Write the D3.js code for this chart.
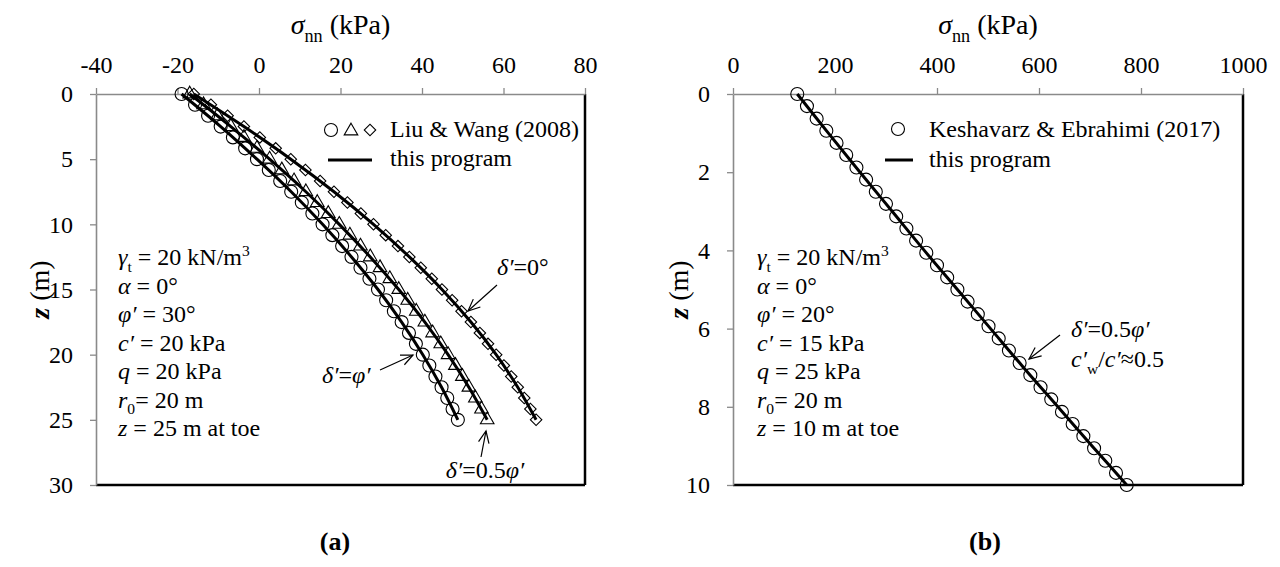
<!DOCTYPE html>
<html><head><meta charset="utf-8">
<script src="https://cdn.jsdelivr.net/npm/d3@7"></script>
<style>
body{margin:0;background:#fff}
svg{display:block}
text{font-family:"Liberation Serif","Times New Roman",serif;fill:#000}
</style>
</head><body>
<svg id="c" width="1280" height="567"></svg>
<script>
// ---------- tick labels ----------
const xTicksA = [-40, -20, 0, 20, 40, 60, 80];
const yTicksA = [0, 5, 10, 15, 20, 25, 30];
const xTicksB = [0, 200, 400, 600, 800, 1000];
const yTicksB = [0, 2, 4, 6, 8, 10];

// ---------- panel (a): Liu & Wang (2008) markers ----------
const zA = [0,0.83,1.67,2.5,3.33,4.17,5,5.83,6.67,7.5,8.33,9.17,10,10.83,11.67,12.5,13.33,14.17,15,15.83,16.67,17.5,18.33,19.17,20,20.83,21.67,22.5,23.33,24.17,25];
const circA = [-19,-15.7,-12.5,-9.4,-6.4,-3.4,-0.5,2.4,5.2,7.9,10.5,13.1,15.6,18.0,20.4,22.7,24.9,27.1,29.2,31.2,33.1,35.0,36.8,38.5,40.2,41.8,43.3,44.8,46.2,47.5,48.8];
const triA  = [-17,-13.6,-10.2,-6.9,-3.7,-0.5,2.6,5.6,8.6,11.5,14.3,17.0,19.7,22.3,24.9,27.3,29.7,32.1,34.3,36.5,38.6,40.7,42.6,44.6,46.4,48.2,49.9,51.5,53.1,54.6,56.0];
const diaA  = [-16,-11.8,-7.7,-3.7,0.2,4.1,7.8,11.4,15.0,18.4,21.7,25.0,28.1,31.1,34.1,36.9,39.7,42.4,44.9,47.4,49.7,52.0,54.2,56.2,58.2,60.1,61.9,63.5,65.1,66.6,68.0];
// ---------- panel (a): this program ----------
const zLineA = [0,2.5,5,7.5,10,12.5,15,17.5,20,22.5,25];
const lineCircA = [-19,-9.4,-0.5,7.9,15.6,22.7,29.2,35.0,40.2,44.8,48.8];
const lineTriA  = [-17,-6.9,2.6,11.5,19.7,27.3,34.3,40.7,46.4,51.5,56.0];
const lineDiaA  = [-16,-3.7,7.8,18.4,28.1,36.9,44.9,52.0,58.2,63.5,68.0];

// ---------- panel (b): Keshavarz & Ebrahimi (2017) ----------
const zB = [0,0.31,0.63,0.94,1.25,1.56,1.88,2.19,2.5,2.81,3.13,3.44,3.75,4.06,4.38,4.69,5,5.31,5.63,5.94,6.25,6.56,6.88,7.19,7.5,7.81,8.13,8.44,8.75,9.06,9.38,9.69,10];
const circB = [126,145,164,183,203,222,242,261,280,300,320,340,359,379,400,420,440,460,480,501,521,541,562,583,603,624,645,666,687,708,730,751,772];
const zLineB = [0,1,2,3,4,5,6,7,8,9,10];
const lineB = [126,187,249,312,375,440,505,570,637,704,772];

const svg = d3.select('#c');
const FONT = 24;

function rich(g, x, y, segs, size, anchor) {
  const t = g.append('text').attr('x', x).attr('y', y).attr('font-size', size);
  if (anchor) t.attr('text-anchor', anchor);
  let shift = 0;
  segs.forEach(s => {
    const sp = t.append('tspan').text(s.t);
    const target = s.sub ? size * 0.28 : s.sup ? -size * 0.38 : 0;
    if (target - shift !== 0) sp.attr('dy', target - shift);
    shift = target;
    if (s.sub || s.sup) sp.attr('font-size', size * 0.65);
    if (s.i) sp.attr('font-style', 'italic');
    if (s.b) sp.attr('font-weight', 'bold');
  });
  return t;
}

function arrow(g, x1, y1, x2, y2) {
  g.append('line').attr('x1', x1).attr('y1', y1).attr('x2', x2).attr('y2', y2)
    .attr('stroke', '#000').attr('stroke-width', 1.2);
  const a = Math.atan2(y2 - y1, x2 - x1), L = 13, w = 0.42;
  const p = [[x2 - L * Math.cos(a - w), y2 - L * Math.sin(a - w)], [x2, y2], [x2 - L * Math.cos(a + w), y2 - L * Math.sin(a + w)]];
  g.append('path').attr('d', d3.line()(p)).attr('fill', 'none').attr('stroke', '#000').attr('stroke-width', 1.2);
}

function panel(o) {
  const g = svg.append('g');
  const x = d3.scaleLinear().domain(o.xd).range(o.xr);
  const y = d3.scaleLinear().domain(o.yd).range(o.yr);
  g.append('line').attr('x1', o.xr[1]).attr('x2', o.xr[1]).attr('y1', o.yr[0]).attr('y2', o.yr[1])
    .attr('stroke', '#000').attr('stroke-width', 2.5);
  g.append('line').attr('x1', o.xr[0]).attr('x2', o.xr[1]).attr('y1', o.yr[1]).attr('y2', o.yr[1])
    .attr('stroke', '#000').attr('stroke-width', 2.5);
  const ax = g.append('g').attr('transform', `translate(0,${o.yr[0]})`)
    .call(d3.axisTop(x).tickValues(o.xt).tickSize(6).tickPadding(15).tickSizeOuter(0).tickFormat(d => String(d)));
  const ay = g.append('g').attr('transform', `translate(${o.xr[0]},0)`)
    .call(d3.axisLeft(y).tickValues(o.yt).tickSize(6).tickPadding(17).tickSizeOuter(0).tickFormat(d => String(d)));
  [ax, ay].forEach(a => {
    a.select('.domain').attr('stroke', '#8a8a8a').attr('stroke-width', 1.6);
    a.selectAll('.tick line').attr('stroke', '#8a8a8a').attr('stroke-width', 1.3);
    a.selectAll('.tick text').attr('font-size', FONT).attr('fill', '#000')
      .attr('font-family', '"Liberation Serif","Times New Roman",serif');
  });
  const cx = (o.xr[0] + o.xr[1]) / 2;
  rich(g, cx, 34, [{t: 'σ', i: 1}, {t: 'nn', sub: 1}, {t: ' (kPa)'}], 28, 'middle');
  const yt = g.append('g').attr('transform', `translate(${o.ytx},${(o.yr[0] + o.yr[1]) / 2}) rotate(-90)`);
  rich(yt, 0, 0, [{t: 'z', i: 1, b: 1}, {t: ' (m)'}], 28, 'middle');
  return {g, x, y};
}

// ================= panel (a) =================
const A = panel({xd: [-40, 80], xr: [96, 585], yd: [0, 30], yr: [94, 485], xt: xTicksA, yt: yTicksA, ytx: 49});
const lineA = d3.line().x(d => A.x(d[0])).y(d => A.y(d[1])).curve(d3.curveCatmullRom);
const symC = d3.symbol().type(d3.symbolCircle).size(133);
const symT = d3.symbol().type(d3.symbolTriangle).size(80);
const symD = d3.symbol().type(d3.symbolSquare).size(66);
function markers(P, xs, zs, sym, rot) {
  P.g.append('g').selectAll('path').data(zs.map((z, i) => [xs[i], z])).join('path')
    .attr('d', sym)
    .attr('transform', d => `translate(${P.x(d[0])},${P.y(d[1])})` + (rot ? ' rotate(45)' : ''))
    .attr('fill', 'none').attr('stroke', '#000').attr('stroke-width', 1.1);
}
markers(A, circA, zA, symC);
markers(A, triA, zA, symT);
markers(A, diaA, zA, symD, true);
[lineCircA, lineTriA, lineDiaA].forEach(vals => {
  A.g.append('path').attr('d', lineA(zLineA.map((z, i) => [vals[i], z])))
    .attr('fill', 'none').attr('stroke', '#000').attr('stroke-width', 3);
});
// legend (a)
A.g.append('path').attr('d', symC).attr('transform', 'translate(331,130)').attr('fill', 'none').attr('stroke', '#000').attr('stroke-width', 1.1);
A.g.append('path').attr('d', symT).attr('transform', 'translate(351,131)').attr('fill', 'none').attr('stroke', '#000').attr('stroke-width', 1.1);
A.g.append('path').attr('d', symD).attr('transform', 'translate(370,130) rotate(45)').attr('fill', 'none').attr('stroke', '#000').attr('stroke-width', 1.1);
A.g.append('text').attr('x', 390).attr('y', 137).attr('font-size', FONT).text('Liu & Wang (2008)');
A.g.append('line').attr('x1', 328).attr('x2', 372).attr('y1', 160).attr('y2', 160).attr('stroke', '#000').attr('stroke-width', 3);
A.g.append('text').attr('x', 390).attr('y', 166).attr('font-size', FONT).text('this program');
const parA = [
  [{t: 'γ', i: 1}, {t: 't', sub: 1}, {t: ' = 20 kN/m'}, {t: '3', sup: 1}],
  [{t: 'α', i: 1}, {t: ' = 0°'}],
  [{t: 'φ′', i: 1}, {t: ' = 30°'}],
  [{t: 'c′', i: 1}, {t: ' = 20 kPa'}],
  [{t: 'q', i: 1}, {t: ' = 20 kPa'}],
  [{t: 'r', i: 1}, {t: '0', sub: 1}, {t: '= 20 m'}],
  [{t: 'z', i: 1}, {t: ' = 25 m at toe'}]
];
parA.forEach((s, i) => rich(A.g, 118, 265 + i * 28.5, s, FONT));
rich(A.g, 497, 275, [{t: 'δ′', i: 1}, {t: '=0°'}], FONT);
arrow(A.g, 497, 285, 468, 311);
rich(A.g, 322, 383, [{t: 'δ′', i: 1}, {t: '='}, {t: 'φ′', i: 1}], FONT);
arrow(A.g, 380, 370, 413, 355);
rich(A.g, 485, 478, [{t: 'δ′', i: 1}, {t: '=0.5'}, {t: 'φ′', i: 1}], FONT, 'middle');
arrow(A.g, 481, 457, 486, 431);
svg.append('text').attr('x', 335).attr('y', 550).attr('font-size', 26).attr('font-weight', 'bold').attr('text-anchor', 'middle').text('(a)');

// ================= panel (b) =================
const B = panel({xd: [0, 1000], xr: [733, 1243], yd: [0, 10], yr: [94, 485], xt: xTicksB, yt: yTicksB, ytx: 688});
const lineBf = d3.line().x(d => B.x(d[0])).y(d => B.y(d[1])).curve(d3.curveCatmullRom);
markers(B, circB, zB, symC);
B.g.append('path').attr('d', lineBf(zLineB.map((z, i) => [lineB[i], z])))
  .attr('fill', 'none').attr('stroke', '#000').attr('stroke-width', 3);
B.g.append('path').attr('d', symC).attr('transform', 'translate(898,129)').attr('fill', 'none').attr('stroke', '#000').attr('stroke-width', 1.1);
B.g.append('text').attr('x', 929).attr('y', 137).attr('font-size', FONT).text('Keshavarz & Ebrahimi (2017)');
B.g.append('line').attr('x1', 885).attr('x2', 913).attr('y1', 160).attr('y2', 160).attr('stroke', '#000').attr('stroke-width', 3);
B.g.append('text').attr('x', 929).attr('y', 167).attr('font-size', FONT).text('this program');
const parB = [
  [{t: 'γ', i: 1}, {t: 't', sub: 1}, {t: ' = 20 kN/m'}, {t: '3', sup: 1}],
  [{t: 'α', i: 1}, {t: ' = 0°'}],
  [{t: 'φ′', i: 1}, {t: ' = 20°'}],
  [{t: 'c′', i: 1}, {t: ' = 15 kPa'}],
  [{t: 'q', i: 1}, {t: ' = 25 kPa'}],
  [{t: 'r', i: 1}, {t: '0', sub: 1}, {t: '= 20 m'}],
  [{t: 'z', i: 1}, {t: ' = 10 m at toe'}]
];
parB.forEach((s, i) => rich(B.g, 757, 265 + i * 28.5, s, FONT));
rich(B.g, 1071, 337, [{t: 'δ′', i: 1}, {t: '=0.5'}, {t: 'φ′', i: 1}], FONT);
rich(B.g, 1071, 367, [{t: 'c′', i: 1}, {t: 'w', sub: 1}, {t: '/'}, {t: 'c′', i: 1}, {t: '≈0.5'}], FONT);
arrow(B.g, 1060, 335, 1029, 359);
svg.append('text').attr('x', 985).attr('y', 550).attr('font-size', 26).attr('font-weight', 'bold').attr('text-anchor', 'middle').text('(b)');
</script>
</body></html>
